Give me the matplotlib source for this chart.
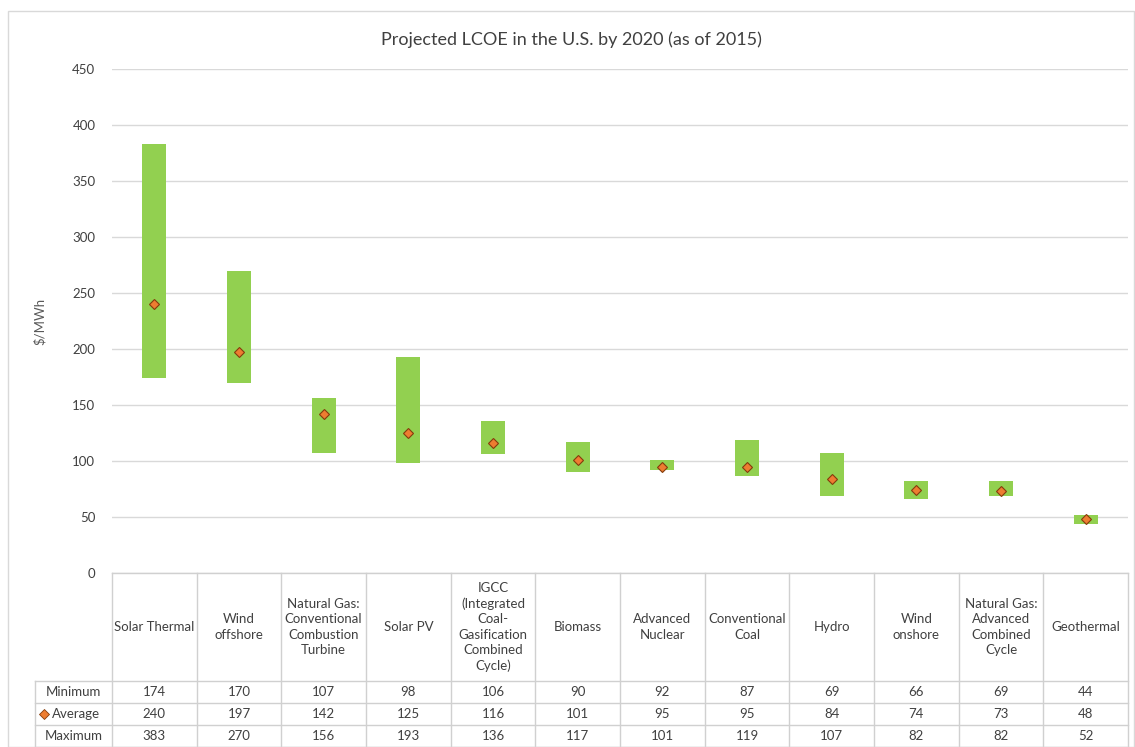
import matplotlib
matplotlib.use("Agg")
import matplotlib.pyplot as plt
from matplotlib.patches import Rectangle
import numpy as np

plt.rcParams['font.family'] = ['Lato', 'DejaVu Sans']

categories = ["Solar Thermal", "Wind\noffshore",
              "Natural Gas:\nConventional\nCombustion\nTurbine", "Solar PV",
              "IGCC\n(Integrated\nCoal-\nGasification\nCombined\nCycle)",
              "Biomass", "Advanced\nNuclear", "Conventional\nCoal", "Hydro",
              "Wind\nonshore", "Natural Gas:\nAdvanced\nCombined\nCycle",
              "Geothermal"]
minimum = [174, 170, 107, 98, 106, 90, 92, 87, 69, 66, 69, 44]
average = [240, 197, 142, 125, 116, 101, 95, 95, 84, 74, 73, 48]
maximum = [383, 270, 156, 193, 136, 117, 101, 119, 107, 82, 82, 52]
yticks = [0, 50, 100, 150, 200, 250, 300, 350, 400, 450]
row_labels = ["Minimum", "Average", "Maximum"]

W, H = 1135, 747
fig = plt.figure(figsize=(W / 100, H / 100), dpi=100)

GREEN = "#92D050"
ORANGE = "#ED7D31"
EDGE = "#843C0C"
GRID = "#D9D9D9"
TXT = "#404040"

# outer chart border
fig.patches.append(Rectangle((8 / W, 0), (W - 9) / W, (H - 11) / H,
                             transform=fig.transFigure, fill=False,
                             edgecolor="#D9D9D9", lw=1))

L, R, T, B = 112, 1128, 69, 573
ax = fig.add_axes([L / W, 1 - B / H, (R - L) / W, (B - T) / H])
n = len(categories)
x = np.arange(n)
heights = [mx - mn for mn, mx in zip(minimum, maximum)]
ax.bar(x, heights, bottom=minimum, width=0.28, color=GREEN, zorder=3)
ax.plot(x, average, linestyle="none", marker="D", markersize=5.5,
        markerfacecolor=ORANGE, markeredgecolor=EDGE, markeredgewidth=0.8,
        zorder=4)
ax.set_xlim(-0.5, n - 0.5)
ax.set_ylim(0, 450)
ax.set_yticks(yticks)
ax.set_yticklabels([str(v) for v in yticks], fontsize=9.5, color=TXT)
ax.tick_params(axis="y", length=0, pad=12)
ax.set_xticks([])
for s in ax.spines.values():
    s.set_visible(False)
ax.grid(axis="y", color=GRID, lw=1, zorder=0)
ax.set_axisbelow(True)
ax.set_ylabel("$/MWh", fontsize=9.5, color="#595959", labelpad=19)

fig.text(571 / W, 1 - 40 / H, "Projected LCOE in the U.S. by 2020 (as of 2015)",
         ha="center", va="center", fontsize=13, color=TXT)

# data table
TL = 35
unit = (R - L) / n
tax = fig.add_axes([TL / W, 0, (R - TL) / W, (H - B) / H])
x_left = -0.5 - (L - TL) / unit
tax.set_xlim(x_left, n - 0.5)
tax.set_ylim(H - B, 0)
tax.axis("off")
hdr = 108
rowh = 22
LC = "#D0D0D0"
# horizontal lines
tax.plot([-0.5, n - 0.5], [0, 0], color=LC, lw=1, clip_on=False)
for k in range(4):
    yy = hdr + k * rowh
    tax.plot([x_left, n - 0.5], [yy, yy], color=LC, lw=1, clip_on=False)
# vertical lines
for i in range(n + 1):
    tax.plot([i - 0.5, i - 0.5], [0, H - B], color=LC, lw=1, clip_on=False)
tax.plot([x_left, x_left], [hdr, H - B], color=LC, lw=1, clip_on=False)

for i, c in enumerate(categories):
    tax.text(i, hdr / 2, c, ha="center", va="center", fontsize=9.5,
             color=TXT, linespacing=1.35)
rows = [minimum, average, maximum]
label_cx = (x_left + -0.5) / 2
for k, (lab, vals) in enumerate(zip(row_labels, rows)):
    yc = hdr + k * rowh + rowh / 2
    if k == 1:
        tax.text(x_left + 17 / unit, yc, lab, ha="left", va="center",
                 fontsize=9.5, color=TXT)
    else:
        tax.text(label_cx, yc, lab, ha="center", va="center", fontsize=9.5,
                 color=TXT)
    for i, v in enumerate(vals):
        tax.text(i, yc, str(v), ha="center", va="center", fontsize=9.5,
                 color=TXT)
# legend marker for Average
tax.plot([x_left + 9 / unit], [hdr + rowh * 1.5], linestyle="none",
         marker="D", markersize=5, markerfacecolor=ORANGE,
         markeredgecolor=EDGE, markeredgewidth=0.6, clip_on=False)

fig.savefig("out.png", dpi=100)
